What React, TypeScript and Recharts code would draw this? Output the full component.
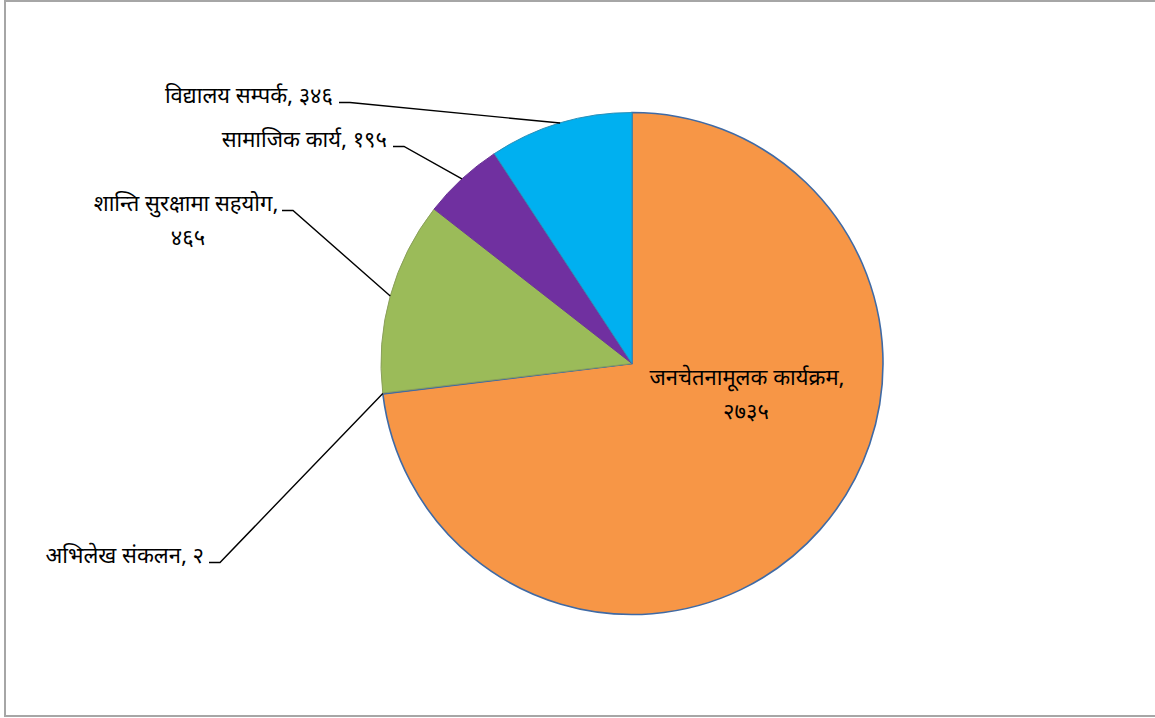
import React from "react";
import { PieChart, Pie, Cell } from "recharts";

const categories = [
  "जनचेतनामूलक कार्यक्रम",
  "अभिलेख संकलन",
  "शान्ति सुरक्षामा सहयोग",
  "सामाजिक कार्य",
  "विद्यालय सम्पर्क",
];
const values = [2735, 2, 465, 195, 346];

const colors = ["#F79646", "#F79646", "#9BBB59", "#7030A0", "#00B0F0"];
const strokes = ["#3F6AA5", "#3F6AA5", "#8A9F5A", "#6A3496", "#2A8FB8"];

// label placement relative to the pie centre (Excel had these dragged by hand)
const labelLayout = [
  { x: 115, y: 21, anchor: "middle", inside: true, wrap: true, line2x: 114 },
  { x: -428, y: 199, anchor: "end", inside: false, wrap: false, line2x: 0 },
  { x: -446, y: -153, anchor: "middle", inside: false, wrap: true, line2x: -444 },
  { x: -245, y: -217, anchor: "end", inside: false, wrap: false, line2x: 0 },
  { x: -299, y: -261, anchor: "end", inside: false, wrap: false, line2x: 0 },
];
const leaderStart = [0, -423, -350, -239, -293];

const devDigits = "०१२३४५६७८९";
const toDev = (n: number) => String(n).replace(/[0-9]/g, (d) => devDigits[Number(d)]);

const data = categories.map((name, i) => ({ name, value: values[i] }));

const RADIAN = Math.PI / 180;
const FONT = "'Noto Sans Devanagari', 'Lohit Devanagari', 'Noto Sans', sans-serif";
const FS = 22;

function renderLabel(props: any) {
  const { cx, cy, midAngle, outerRadius, index } = props;
  const lay = labelLayout[index];
  const name = categories[index];
  const num = toDev(values[index]);
  const tx = cx + lay.x;
  const ty = cy + lay.y;

  const lines = lay.wrap ? [name + ",", num] : [name + ", " + num];

  let leader = null;
  if (!lay.inside) {
    const ex = cx + outerRadius * Math.cos(-midAngle * RADIAN);
    const ey = cy + outerRadius * Math.sin(-midAngle * RADIAN);
    const sx = cx + leaderStart[index];
    leader = (
      <polyline
        points={`${sx},${ty} ${sx + 11},${ty} ${ex},${ey}`}
        fill="none"
        stroke="#000"
        strokeWidth={1.4}
      />
    );
  }

  return (
    <g key={`lbl-${index}`}>
      {leader}
      <text x={tx} y={ty} textAnchor={lay.anchor} fill="#000" fontSize={FS} fontFamily={FONT}>
        {lines[0]}
      </text>
      {lines[1] && (
        <text x={cx + lay.line2x} y={ty + 34} textAnchor="middle" fill="#000" fontSize={FS} fontFamily={FONT}>
          {lines[1]}
        </text>
      )}
    </g>
  );
}

export default function App() {
  return (
    <div style={{ position: "absolute", left: 0, top: 0, width: 1155, height: 718, background: "#fff", overflow: "hidden" }}>
      <div
        style={{
          position: "absolute",
          left: 4,
          top: 0,
          width: 1160,
          height: 713,
          border: "2px solid #A6A6A6",
        }}
      />
      <div style={{ position: "absolute", left: 0, top: 0 }}>
        <PieChart width={1155} height={718} margin={{ top: 0, right: 0, bottom: 0, left: 0 }}>
          <Pie
            data={data}
            dataKey="value"
            nameKey="name"
            cx={632}
            cy={363.5}
            outerRadius={251}
            startAngle={90}
            endAngle={-270}
            label={renderLabel}
            labelLine={false}
            isAnimationActive={false}
          >
            {data.map((d, i) => (
              <Cell key={d.name} fill={colors[i]} stroke={strokes[i]} strokeWidth={i === 0 ? 1.6 : 1} />
            ))}
          </Pie>
        </PieChart>
      </div>
    </div>
  );
}
